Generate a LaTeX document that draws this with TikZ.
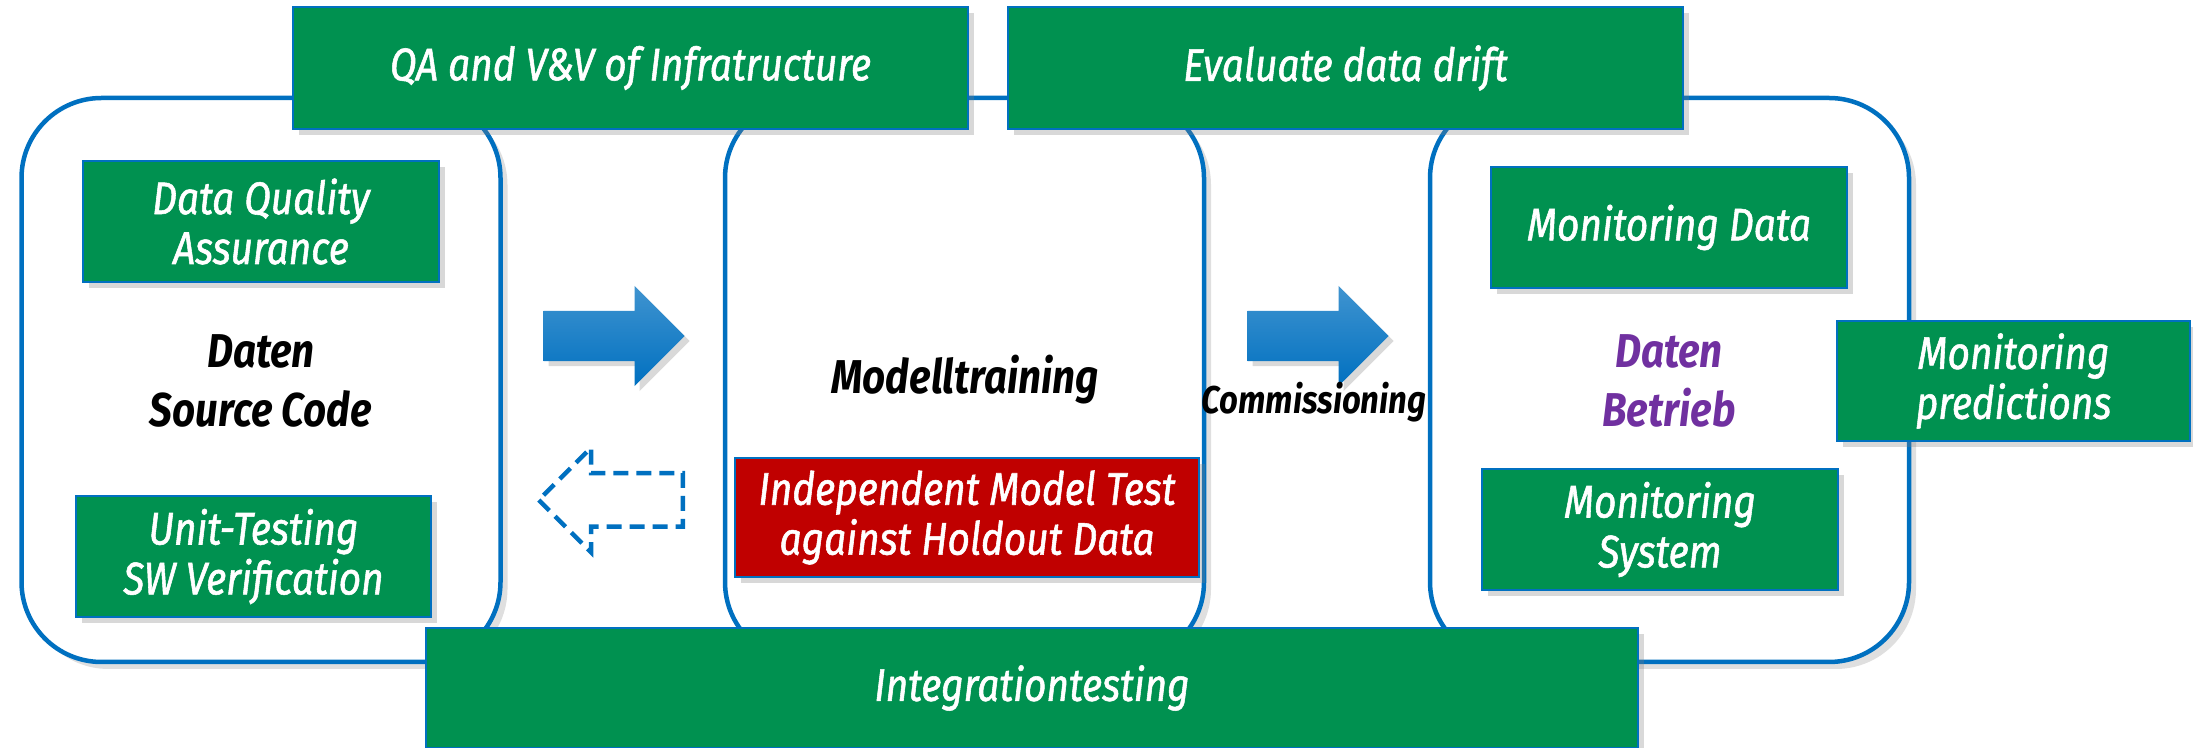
\documentclass[tikz,border=0pt]{standalone}
\usepackage{fontspec}
\setmainfont{Fira Sans}[FakeStretch=0.85]
\newfontfamily\boxfont{Fira Sans}[FakeStretch=0.85,FakeBold=1.2]
\usetikzlibrary{shapes.arrows}
\usetikzlibrary{shadows}
\definecolor{ppgreen}{RGB}{0,145,80}
\definecolor{ppblue}{RGB}{0,112,192}
\definecolor{ppred}{RGB}{192,0,0}
\definecolor{pppurple}{RGB}{112,48,160}

\begin{document}
\begin{tikzpicture}[x=0.1mm,y=-0.1mm,
  phase/.style={draw=ppblue,line width=0.45mm,rounded corners=8mm,fill=white,
    minimum width=47.9mm,minimum height=56.4mm,
    drop shadow={shadow xshift=0.7mm,shadow yshift=-0.7mm,opacity=0.25}},
  greenbox/.style={draw=ppblue,line width=0.25mm,fill=ppgreen,text=white,align=center,
    font=\boxfont\fontsize{13}{14.2}\selectfont\itshape,inner sep=0pt,
    drop shadow={shadow xshift=0.6mm,shadow yshift=-0.6mm,opacity=0.3}},
  bigtext/.style={align=center,font=\fontsize{13.5}{16.8}\selectfont\bfseries\itshape},
  blockarrow/.style={single arrow,single arrow head extend=2.5mm,anchor=tail,
    single arrow head indent=0pt,inner sep=2.45mm,minimum height=14.1mm}]
\useasboundingbox (0,0) rectangle (2193,748);
% the three phases
\node[phase] (daten) at (261,380) {};
\node[phase] (training) at (964.5,380) {};
\node[phase] (betrieb) at (1669.5,380) {};
% boxes along the outer frame
\node[greenbox,minimum width=67.5mm,minimum height=12.2mm] (qa) at (630.5,68) {QA and V\&V of Infratructure};
\node[greenbox,minimum width=67.5mm,minimum height=12.2mm] (drift) at (1345.5,68) {Evaluate data drift};
\node[greenbox,minimum width=121.2mm,minimum height=12mm] (integ) at (1032,688) {Integrationtesting};
% first phase
\node[greenbox,minimum width=35.6mm,minimum height=12.1mm] (dqa) at (261,221.5) {Data Quality\\Assurance};
\node[greenbox,minimum width=35.5mm,minimum height=12.1mm] (unit) at (253.5,556.5) {Unit-Testing\\SW Verification};
\node[bigtext] (datenlbl) at (261,381) {Daten\\Source Code};
% second phase
\node[bigtext] (traininglbl) at (965,380) {Modelltraining};
\node[greenbox,fill=ppred,minimum width=46.4mm,minimum height=11.9mm] (holdout) at (967,517.5) {Independent Model Test\\against Holdout Data};
% third phase
\node[greenbox,minimum width=35.6mm,minimum height=12.1mm] (mondata) at (1669,227.5) {Monitoring Data};
\node[greenbox,minimum width=35.6mm,minimum height=12.1mm] (monsys) at (1660,529.5) {Monitoring\\System};
\node[greenbox,minimum width=35.3mm,minimum height=12mm] (monpred) at (2013.5,381) {Monitoring\\predictions};
\node[bigtext,text=pppurple] (betrieblbl) at (1669,381) {Daten\\Betrieb};
% arrows between the phases
\node[blockarrow,draw=none,top color=ppblue!75,bottom color=ppblue,
  drop shadow={shadow xshift=0.5mm,shadow yshift=-0.5mm,opacity=0.3}] (fwd1) at (543,336) {};
\node[blockarrow,draw=none,top color=ppblue!75,bottom color=ppblue,
  drop shadow={shadow xshift=0.5mm,shadow yshift=-0.5mm,opacity=0.3}] (fwd2) at (1247,336) {};
\node[blockarrow,shape border rotate=180,draw=ppblue,dash pattern=on 1.5mm off 0.8mm,
  line width=0.45mm,fill=white,minimum height=14.4mm,single arrow head extend=2.55mm] (back) at (685,500) {};
\node[font=\fontsize{11}{13}\selectfont\bfseries\itshape] (comm) at (1314,402) {Commissioning};
\end{tikzpicture}
\end{document}
